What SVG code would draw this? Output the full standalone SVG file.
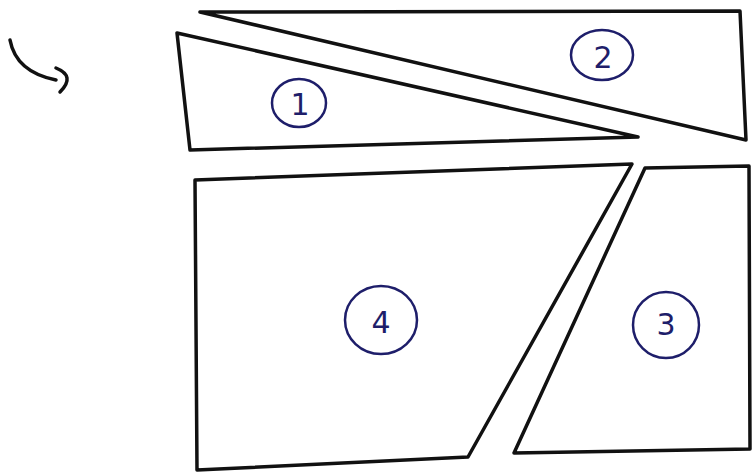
<svg xmlns="http://www.w3.org/2000/svg" width="753" height="472" viewBox="0 0 753 472">
<style>
.edge{fill:none;stroke:#111;stroke-width:3.5;stroke-linejoin:round;stroke-linecap:round}
.ring{fill:none;stroke:#1e1e6a;stroke-width:2.5}
.num{font-family:"DejaVu Sans","Liberation Sans",sans-serif;font-size:30px;fill:#1e1e6a;text-anchor:middle;dominant-baseline:central}
</style>
<rect width="753" height="472" fill="#fff"/>
<g id="connectors">
<path class="edge" d="M10,40 Q16,72 56,80"/>
<path class="edge" d="M56,68 Q76,76 60,92"/>
</g>
<g id="piece1">
<path class="edge" d="M177,33 L638,137 L190,150 Z"/>
<ellipse class="ring" cx="299" cy="103" rx="27" ry="24"/>
<text class="num" x="300" y="104">1</text>
</g>
<g id="piece2">
<path class="edge" d="M200,12 L740,11 L746,140 Z"/>
<ellipse class="ring" cx="602" cy="55" rx="31" ry="25"/>
<text class="num" x="603" y="57">2</text>
</g>
<g id="piece3">
<path class="edge" d="M645,168 L749,166 L750,449 L514,453 Z"/>
<ellipse class="ring" cx="666" cy="325" rx="33" ry="33"/>
<text class="num" x="666" y="324">3</text>
</g>
<g id="piece4">
<path class="edge" d="M195,180 L632,164 L468,457 L197,470 Z"/>
<ellipse class="ring" cx="381" cy="320" rx="36" ry="34"/>
<text class="num" x="381" y="322">4</text>
</g>
</svg>
